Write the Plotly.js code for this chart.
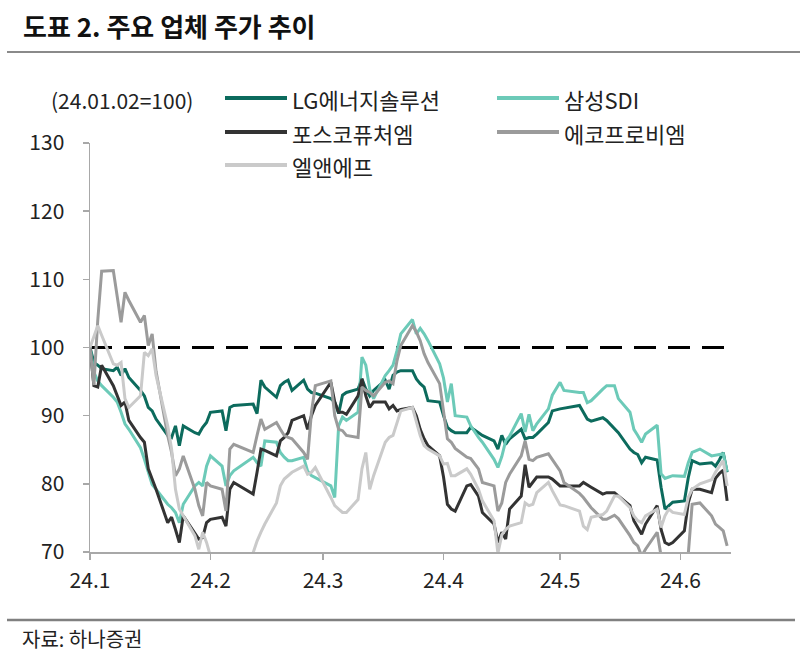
<!DOCTYPE html>
<html>
<head>
<meta charset="utf-8">
<script src="https://cdn.plot.ly/plotly-3.0.1.min.js"></script>
<style>
html,body{margin:0;padding:0;background:#ffffff;}
#chart{width:801px;height:663px;}
</style>
</head>
<body>
<div id="chart"></div>
<script>
// ---- data (trading days, index 24.01.02 = 100) ----
const dates = [
 '2024-01-02','2024-01-03','2024-01-04','2024-01-05','2024-01-08','2024-01-09','2024-01-10','2024-01-11','2024-01-12','2024-01-15','2024-01-16','2024-01-17','2024-01-18','2024-01-19','2024-01-22','2024-01-23','2024-01-24','2024-01-25','2024-01-26','2024-01-29','2024-01-30','2024-01-31',
 '2024-02-01','2024-02-02','2024-02-05','2024-02-06','2024-02-07','2024-02-08','2024-02-13','2024-02-14','2024-02-15','2024-02-16','2024-02-19','2024-02-20','2024-02-21','2024-02-22','2024-02-23','2024-02-26','2024-02-27','2024-02-28','2024-02-29',
 '2024-03-04','2024-03-05','2024-03-06','2024-03-07','2024-03-08','2024-03-11','2024-03-12','2024-03-13','2024-03-14','2024-03-15','2024-03-18','2024-03-19','2024-03-20','2024-03-21','2024-03-22','2024-03-25','2024-03-26','2024-03-27','2024-03-28','2024-03-29',
 '2024-04-01','2024-04-02','2024-04-03','2024-04-04','2024-04-05','2024-04-08','2024-04-09','2024-04-11','2024-04-12','2024-04-15','2024-04-16','2024-04-17','2024-04-18','2024-04-19','2024-04-22','2024-04-23','2024-04-24','2024-04-25','2024-04-26','2024-04-29','2024-04-30',
 '2024-05-02','2024-05-03','2024-05-07','2024-05-08','2024-05-09','2024-05-10','2024-05-13','2024-05-14','2024-05-16','2024-05-17','2024-05-20','2024-05-21','2024-05-22','2024-05-23','2024-05-24','2024-05-27','2024-05-28','2024-05-29','2024-05-30','2024-05-31',
 '2024-06-03','2024-06-04','2024-06-05','2024-06-07','2024-06-10','2024-06-11','2024-06-12','2024-06-13','2024-06-14'
];

const lgEnergy = [
 100,97.8,97.4,96.9,96.6,97.1,95.9,96.9,95.6,93.7,92.9,91.2,90.7,89.5,87.1,86.8,88.5,85.6,88.5,87.5,87.3,88.3,
 89.0,90.5,90.7,87.8,91.2,91.5,91.7,90.3,95.2,94.2,92.7,94.4,94.9,95.2,93.7,95.2,93.9,93.4,93.3,
 92.5,92.0,90.3,93.0,93.4,93.9,95.4,93.9,92.9,93.7,95.2,93.9,95.9,96.4,96.6,96.6,95.4,94.7,94.2,92.2,
 92.0,90.0,88.3,87.8,87.5,87.5,88.3,87.5,87.1,86.3,85.1,87.1,85.8,86.6,88.0,86.6,86.8,86.8,87.3,89.0,90.7,
 91.0,91.1,91.5,90.5,89.5,89.2,89.7,89.3,88.0,87.5,85.1,84.6,84.3,83.1,83.9,83.5,79.5,76.3,76.8,77.3,
 77.5,80.9,83.4,82.9,83.1,82.6,83.5,84.6,81.7
];

const samsungSDI = [
 100,96.4,95.1,94.4,92.7,92.0,90.5,88.8,88.0,85.3,83.6,81.7,79.9,79.2,77.0,76.5,75.8,74.3,77.0,79.7,80.2,79.7,
 82.6,84.1,82.6,79.7,81.2,81.9,83.9,83.1,82.6,86.3,86.1,84.6,83.9,83.4,83.4,83.9,81.9,81.2,80.9,
 79.7,78.0,88.5,89.8,89.3,90.5,98.6,97.4,93.9,92.5,95.9,96.6,97.4,99.5,102.0,104.1,102.0,102.8,102.0,101.0,
 97.6,95.5,92.0,94.7,90.0,89.8,88.5,86.8,86.1,83.6,82.4,84.0,86.3,87.0,90.3,87.6,90.2,87.8,88.8,91.0,93.0,
 94.9,93.7,93.4,93.4,91.9,92.2,93.9,94.4,94.4,92.5,90.5,88.0,87.1,86.1,87.3,88.6,81.5,80.8,81.0,81.2,
 81.1,83.1,84.6,85.1,84.1,84.2,84.3,84.4,81.8
];

const poscoFuture = [
 100,94.4,94.2,97.4,94.4,92.9,91.5,92.0,89.3,86.8,86.1,82.2,80.7,79.2,74.3,75.1,73.3,71.4,75.3,72.6,71.9,72.1,
 74.3,74.8,75.1,73.8,79.2,80.2,78.5,81.7,85.1,84.9,84.1,86.3,86.8,87.5,89.3,90.0,88.0,90.0,91.5,
 94.9,92.0,90.5,90.5,90.2,92.9,95.4,92.9,91.2,92.0,92.0,91.0,91.5,90.7,90.9,91.2,90.0,88.0,86.6,85.6,
 84.1,81.0,77.0,76.3,76.0,79.7,79.9,78.2,75.8,74.1,71.4,72.9,71.9,76.3,78.2,82.8,79.5,80.2,81.0,81.0,80.7,
 79.7,79.7,79.7,80.2,79.8,79.5,78.5,78.7,78.7,78.2,76.8,74.6,73.6,72.6,74.1,76.8,73.3,71.4,71.1,71.4,
 73.1,77.2,79.2,79.2,78.7,80.8,81.5,82.0,77.5
];

const ecoproBM = [
 100,94.5,104.0,111.2,111.3,107.5,103.7,108.1,106.9,103.7,104.7,100.3,102.0,96.5,87.1,84.6,81.2,82.2,84.1,79.2,76.8,75.3,
 80.2,79.7,79.2,76.0,85.1,85.8,84.6,87.1,89.5,88.0,89.0,88.0,87.1,86.8,86.6,84.6,83.6,90.5,94.4,
 95.1,90.0,88.0,87.8,87.1,86.8,94.2,93.7,93.4,92.9,94.9,95.1,94.7,98.0,100.3,103.2,102.3,101.0,99.1,97.8,
 94.7,90.5,86.6,86.1,85.2,83.9,83.7,82.2,80.2,79.7,76.0,77.2,80.2,81.4,84.1,86.3,83.6,83.4,83.9,84.4,83.6,
 81.9,80.2,78.6,78.0,77.2,76.5,74.8,74.8,75.4,74.9,72.4,71.4,70.9,69.4,70.4,72.9,69.4,68.0,67.5,68.0,
 68.5,69.7,77.0,77.2,75.3,74.1,73.6,73.1,70.9
];

const lnf = [
 100,101.5,103.2,101.8,97.6,97.4,97.8,92.5,91.2,92.9,99.3,98.8,99.8,95.9,88.5,85.1,79.2,76.3,75.3,72.4,70.4,72.9,
 71.4,69.4,68.5,68.0,68.0,68.5,69.9,71.6,72.9,74.1,77.2,79.7,80.7,81.2,81.7,82.6,81.4,81.7,82.4,
 78.0,76.8,76.3,75.8,75.8,77.7,82.2,84.6,79.2,81.2,86.1,86.8,87.1,89.0,90.7,91.2,89.0,87.1,85.6,85.1,
 84.1,82.9,83.0,81.2,81.2,82.2,81.4,79.2,77.5,74.6,69.8,72.5,73.3,73.8,74.3,77.2,76.8,77.0,78.7,80.2,79.0,
 76.9,76.8,76.0,73.8,73.3,75.1,75.5,76.0,78.2,78.2,76.5,75.3,74.6,74.3,75.3,76.3,73.6,75.3,76.3,75.8,
 75.5,78.0,79.2,80.0,80.6,81.7,82.5,83.4,79.7
];

const seriesNames  = ['LG에너지솔루션','삼성SDI','포스코퓨처엠','에코프로비엠','엘앤에프'];
const seriesValues = [lgEnergy, samsungSDI, poscoFuture, ecoproBM, lnf];
const seriesColors = ['#0c6b5d','#6ccab8','#333333','#9b9b9b','#cacaca'];

const baseLevel = 100;
const tickVals = ['2024-01-02','2024-02-02','2024-03-02','2024-04-02','2024-05-02','2024-06-02'];
const tickText = ['24.1','24.2','24.3','24.4','24.5','24.6'];
const yTicks = [70,80,90,100,110,120,130];

const titleText  = '도표 2. 주요 업체 주가 추이';
const unitText   = '(24.01.02=100)';
const sourceText = '자료: 하나증권';

// ---- layout helpers (pixel -> paper) ----
const W = 801, H = 663;
const M = {l:90, r:70, t:143, b:111};
const PW = W - M.l - M.r, PH = H - M.t - M.b;
const px = v => (v - M.l) / PW;
const py = v => (H - M.b - v) / PH;

const FONT = '"Noto Sans CJK KR", "Noto Sans", sans-serif';

const traces = seriesNames.map((name, i) => ({
  type: 'scatter', mode: 'lines', name: name,
  x: dates, y: seriesValues[i],
  line: {color: seriesColors[i], width: 3},
  hoverinfo: 'skip', showlegend: false
}));

const shapes = [
  // reference line at 100
  {type:'line', xref:'paper', x0:0, x1:1, yref:'y', y0:baseLevel, y1:baseLevel,
   line:{color:'#000000', width:3, dash:'22px,12px'}, layer:'below'},
  // title underline
  {type:'line', xref:'paper', x0:px(7), x1:px(800), yref:'paper', y0:py(52), y1:py(52),
   line:{color:'#8a8a8a', width:2}},
  // bottom rule
  {type:'line', xref:'paper', x0:px(7), x1:px(795), yref:'paper', y0:py(620), y1:py(620),
   line:{color:'#808080', width:2.5}}
];

const annotations = [
  {text:titleText, xref:'paper', yref:'paper', x:px(21), y:py(26), xanchor:'left', yanchor:'middle',
   showarrow:false, font:{family:FONT, size:26, color:'#111111', weight:700}},
  {text:unitText, xref:'paper', yref:'paper', x:px(49), y:py(100), xanchor:'left', yanchor:'middle',
   showarrow:false, font:{family:FONT, size:21, color:'#222222'}},
  {text:sourceText, xref:'paper', yref:'paper', x:px(20), y:py(638), xanchor:'left', yanchor:'middle',
   showarrow:false, font:{family:FONT, size:20, color:'#222222'}}
];

// manual legend: 2 columns
const legCols = [225, 497], legRows = [98, 132, 165], legLen = 62;
seriesNames.forEach((name, i) => {
  const c = i % 2, r = Math.floor(i / 2);
  const x0 = legCols[c], yy = legRows[r];
  shapes.push({type:'line', xref:'paper', yref:'paper', x0:px(x0), x1:px(x0 + legLen), y0:py(yy), y1:py(yy),
    line:{color:seriesColors[i], width:4}});
  annotations.push({text:name, xref:'paper', yref:'paper', x:px(x0 + legLen + 3), y:py(yy + 1),
    xanchor:'left', yanchor:'middle', showarrow:false, font:{family:FONT, size:22, color:'#222222'}});
});

const layout = {
  width: W, height: H,
  margin: M,
  paper_bgcolor: '#ffffff', plot_bgcolor: '#ffffff',
  font: {family: FONT, size: 21, color: '#222222'},
  showlegend: false,
  xaxis: {
    type: 'date', range: ['2024-01-02', '2024-06-15'],
    tickmode: 'array', tickvals: tickVals, ticktext: tickText,
    ticks: 'outside', ticklen: 6, tickwidth: 1.5, tickcolor: '#a8a8a8',
    showline: true, linecolor: '#a8a8a8', linewidth: 1.5,
    showgrid: false, zeroline: false,
    tickfont: {family: FONT, size: 21, color: '#222222'},
    ticklabelstandoff: 3
  },
  yaxis: {
    range: [70, 130], tickmode: 'array', tickvals: yTicks,
    ticks: 'outside', ticklen: 6, tickwidth: 1.5, tickcolor: '#a8a8a8',
    showline: true, linecolor: '#a8a8a8', linewidth: 1.5,
    showgrid: false, zeroline: false,
    tickfont: {family: FONT, size: 21, color: '#222222'},
    ticklabelstandoff: 14
  },
  shapes: shapes,
  annotations: annotations
};

Plotly.newPlot('chart', traces, layout, {staticPlot: true, displayModeBar: false});
</script>
</body>
</html>
